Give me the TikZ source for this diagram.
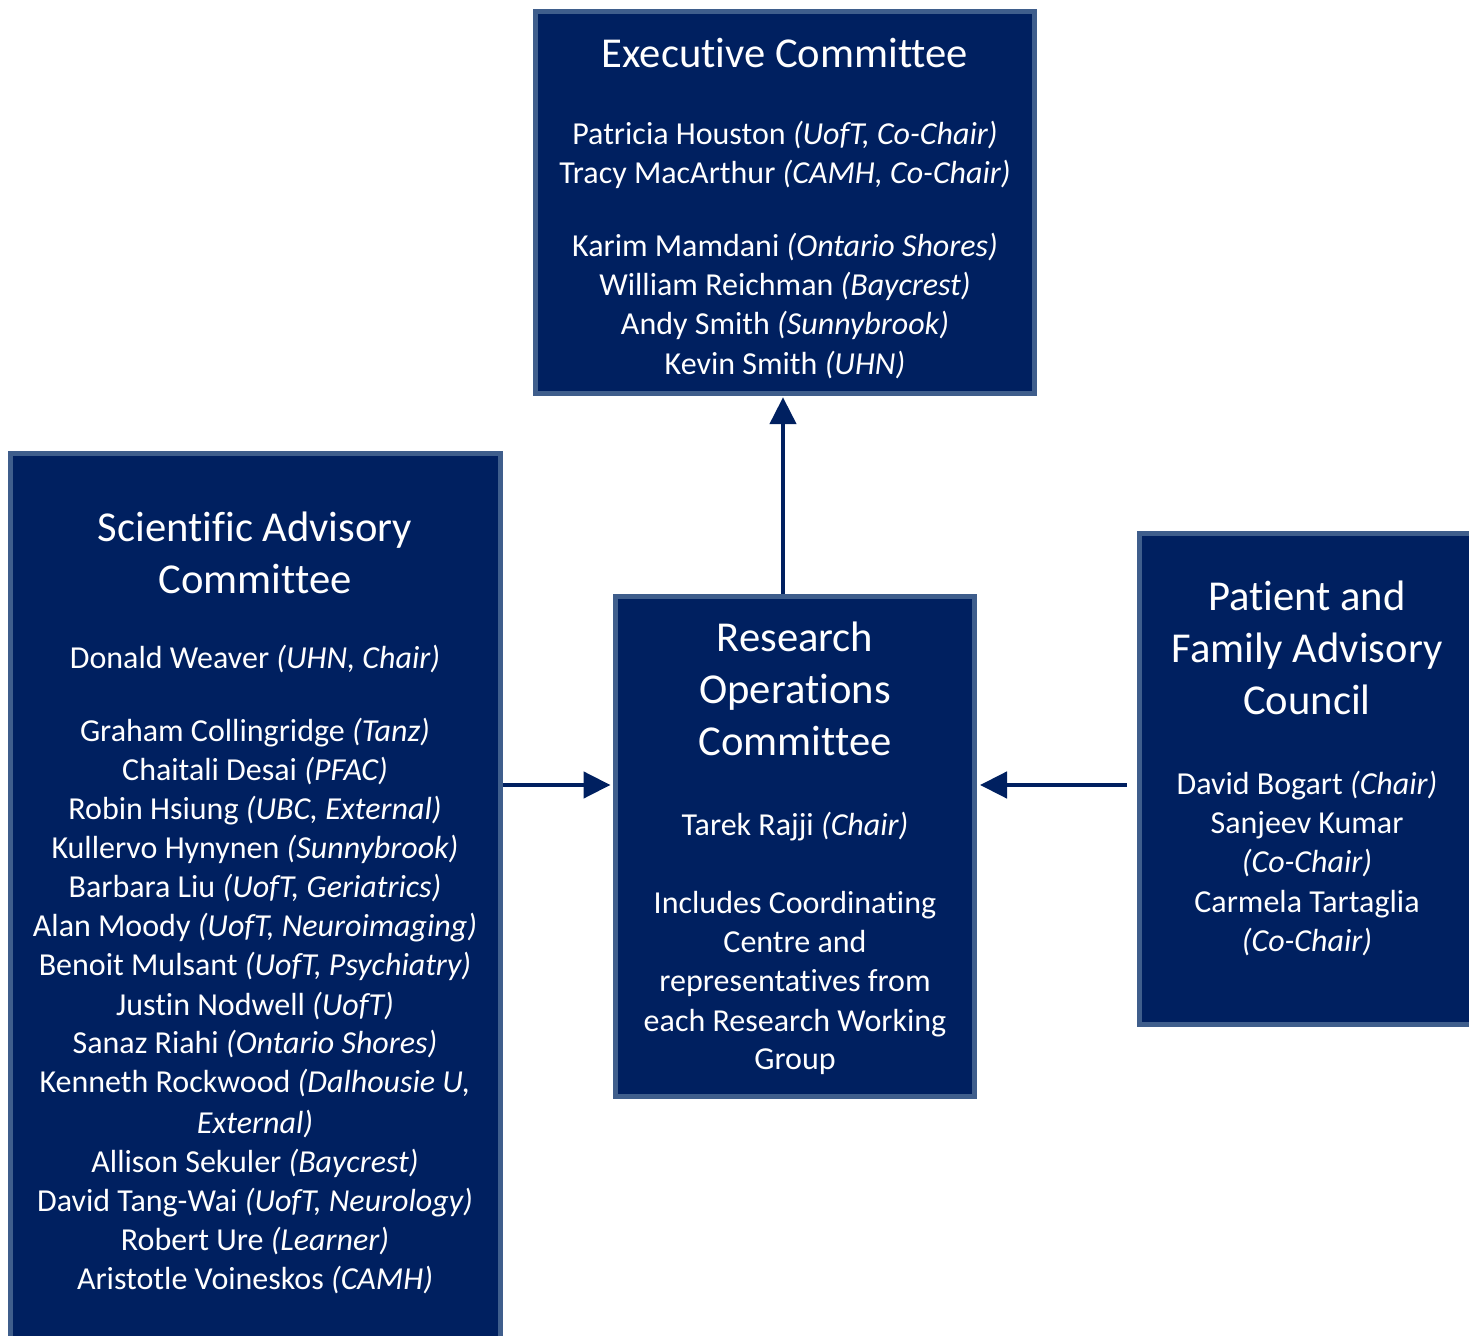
\documentclass[tikz,border=0pt]{standalone}
\usepackage{fontspec}
\setmainfont{Carlito}[Ligatures=CommonOff]
\usetikzlibrary{arrows.meta}
\definecolor{navy}{RGB}{0,32,96}
\definecolor{rim}{RGB}{63,94,140}
\newcommand\affil[1]{\textit{(#1)}}
\tikzset{
  panel/.style={draw=rim, fill=navy, line width=2.5pt, inner sep=0pt, rectangle},
  head/.style={text=white, font=\fontsize{21.3}{26}\selectfont, anchor=base, inner sep=0pt, yshift=-1.5pt},
  body/.style={text=white, font=\fontsize{16}{19.5}\selectfont, anchor=base, inner sep=0pt, yshift=-1.5pt},
  link/.style={draw=navy, line width=2.3pt, -{Triangle[length=13.5pt, width=13pt]}}
}
\begin{document}
\begin{tikzpicture}[x=0.5pt, y=-0.5pt]
\useasboundingbox (0,0) rectangle (1469,1336);
\clip (0,0) rectangle (1469,1336);

% committee panels
\node[panel, minimum width=249.5pt, minimum height=191pt] (exec) at (785,202.5) {};
\node[panel, minimum width=245pt, minimum height=473.25pt] (sac) at (255.5,926.75) {};
\node[panel, minimum width=179.75pt, minimum height=250pt] (roc) at (794.75,846.5) {};
\node[panel, minimum width=168pt, minimum height=245.5pt] (pfac) at (1307,779.5) {};

% Executive Committee
\node[head] (exec-t) at (785,65) {Executive Committee};
\foreach \txt/\yy [count=\i] in {
  {Patricia Houston \affil{UofT, Co-Chair}}/142,
  {Tracy MacArthur \affil{CAMH, Co-Chair}}/181,
  {Karim Mamdani \affil{Ontario Shores}}/254,
  {William Reichman \affil{Baycrest}}/293,
  {Andy Smith \affil{Sunnybrook}}/332,
  {Kevin Smith \affil{UHN}}/372}
  \node[body] (exec-\i) at (785,\yy) {\txt};

% Scientific Advisory Committee
\node[head] (sac-t1) at (255,539) {Scientific Advisory};
\node[head] (sac-t2) at (255,591) {Committee};
\foreach \txt/\yy [count=\i] in {
  {Donald Weaver \affil{UHN, Chair}}/666,
  {Graham Collingridge \affil{Tanz}}/739,
  {Chaitali Desai \affil{PFAC}}/778,
  {Robin Hsiung \affil{UBC, External}}/817,
  {Kullervo Hynynen \affil{Sunnybrook}}/856,
  {Barbara Liu \affil{UofT, Geriatrics}}/895,
  {Alan Moody \affil{UofT, Neuroimaging}}/934,
  {Benoit Mulsant \affil{UofT, Psychiatry}}/973,
  {Justin Nodwell \affil{UofT}}/1012,
  {Sanaz Riahi \affil{Ontario Shores}}/1051,
  {Kenneth Rockwood \textit{(Dalhousie U,}}/1090,
  {\textit{External)}}/1130,
  {Allison Sekuler \affil{Baycrest}}/1169,
  {David Tang-Wai \affil{UofT, Neurology}}/1208,
  {Robert Ure \affil{Learner}}/1247,
  {Aristotle Voineskos \affil{CAMH}}/1286}
  \node[body] (sac-\i) at (255,\yy) {\txt};

% Research Operations Committee
\node[head] (roc-t1) at (795,649) {Research};
\node[head] (roc-t2) at (795,701) {Operations};
\node[head] (roc-t3) at (795,753) {Committee};
\foreach \txt/\yy [count=\i] in {
  {Tarek Rajji \affil{Chair}}/833,
  {Includes Coordinating}/911,
  {Centre and}/950,
  {representatives from}/989,
  {each Research Working}/1028,
  {Group}/1067}
  \node[body] (roc-\i) at (795,\yy) {\txt};

% Patient and Family Advisory Council
\node[head] (pfac-t1) at (1307,608) {Patient and};
\node[head] (pfac-t2) at (1307,660) {Family Advisory};
\node[head] (pfac-t3) at (1307,712) {Council};
\foreach \txt/\yy [count=\i] in {
  {David Bogart \affil{Chair}}/792,
  {Sanjeev Kumar}/831,
  {\affil{Co-Chair}}/870,
  {Carmela Tartaglia}/910,
  {\affil{Co-Chair}}/949}
  \node[body] (pfac-\i) at (1307,\yy) {\txt};

% reporting lines
\draw[link] (roc.north -| 783,0) -- ([yshift=-0.6pt]exec.south -| 783,0);
\draw[link] (sac.east |- 0,785) -- ([xshift=-1pt]roc.west |- 0,785);
\draw[link, shorten <=5pt] (pfac.west |- 0,785) -- ([xshift=1.5pt]roc.east |- 0,785);
\end{tikzpicture}
\end{document}
